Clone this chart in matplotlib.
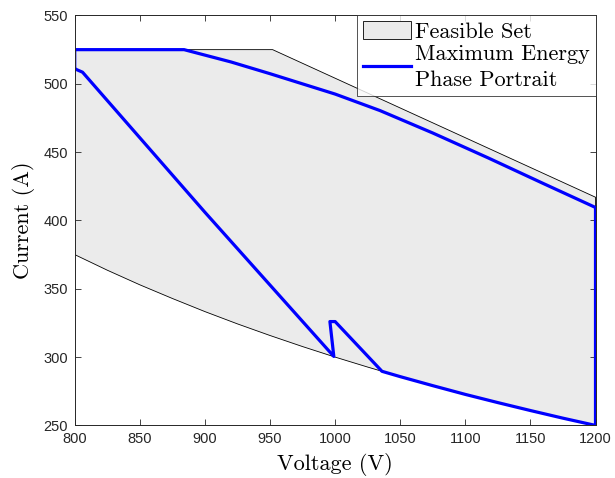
import matplotlib
matplotlib.use('Agg')
import matplotlib.pyplot as plt
from matplotlib.patches import Polygon

# feasible set boundary (V, A)
feas_v = [800, 800, 952, 1200, 1200, 1175, 1150, 1125, 1100, 1075, 1050,
          1025, 1000, 975, 950, 925, 900, 875, 850, 825, 800]
feas_i = [375, 525, 525, 417, 250, 255.3, 260.9, 266.7, 272.7, 279.1, 285.7,
          292.7, 300, 307.7, 315.8, 324.3, 333.3, 342.9, 352.9, 363.6, 375]

# maximum energy phase portrait
traj_v = [800, 800, 884, 920, 950, 1000, 1034.5, 1075, 1117.5, 1160, 1200,
          1200, 1175, 1150, 1125, 1100, 1075, 1050, 1036, 1000, 996, 999,
          900, 806, 800]
traj_i = [511, 525, 525, 516, 507.4, 492.5, 480.4, 464, 445.8, 427, 409.5,
          250, 255.3, 260.9, 266.7, 272.7, 279.1, 285.7, 289.6, 326, 326, 300.5,
          406, 508.5, 511]

plt.rcParams['font.family'] = ['Liberation Sans', 'DejaVu Sans']
serif = 'cmr10'

fig = plt.figure(figsize=(6.15, 4.78), dpi=100)
ax = fig.add_axes([0.1215, 0.110, 0.8468, 0.8576])

poly = Polygon(list(zip(feas_v, feas_i)), closed=True, facecolor='#ebebeb',
               edgecolor='black', linewidth=0.6, label='Feasible Set')
ax.add_patch(poly)
ax.plot(traj_v, traj_i, color='#0000ff', linewidth=2.3,
        label='Maximum Energy\nPhase Portrait')

ax.set_xlim(800, 1200)
ax.set_ylim(250, 550)
ax.set_xticks(range(800, 1201, 50))
ax.set_yticks(range(250, 551, 50))
ax.tick_params(direction='in', length=4, width=0.6, labelsize=10.5,
               top=True, right=True, colors='#262626')
ax.tick_params(axis='x', pad=5)
ax.tick_params(axis='y', pad=5)
for s in ax.spines.values():
    s.set_color('#262626')
    s.set_linewidth(0.7)

ax.set_xlabel('Voltage (V)', family=serif, fontsize=16, labelpad=4.5)
ax.set_ylabel('Current (A)', family=serif, fontsize=16, labelpad=6)

leg = ax.legend(loc='upper right', borderaxespad=0, fancybox=False,
                prop={'family': serif, 'size': 16}, handlelength=2.15,
                handleheight=0.9, handletextpad=0.2, borderpad=0.25,
                labelspacing=0.1)
for t in leg.get_texts():
    t.set_linespacing(1.45)
leg.get_frame().set_edgecolor('#262626')
leg.get_frame().set_linewidth(0.7)

fig.savefig('out.png', dpi=100)
